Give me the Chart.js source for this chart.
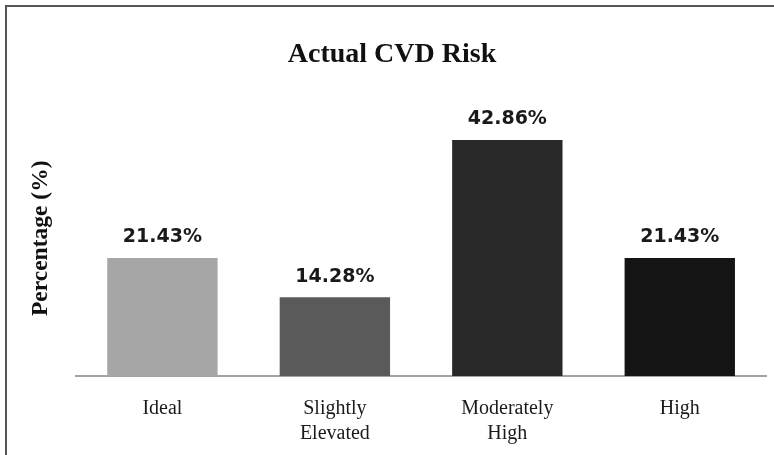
<!DOCTYPE html>
<html>
<head>
<meta charset="utf-8">
<script src="https://cdn.jsdelivr.net/npm/chart.js@4.4.1/dist/chart.umd.min.js"></script>
<style>
  html, body { margin: 0; padding: 0; background: #fff; }
  body { width: 774px; height: 455px; position: relative; overflow: hidden; }
  #frame {
    position: absolute; left: 5px; top: 5px; width: 900px; height: 600px;
    border-top: 2px solid #555; border-left: 2px solid #555;
  }
  #wrap { position: absolute; left: 0; top: 0; width: 774px; height: 455px; }
</style>
</head>
<body>
<div id="frame"></div>
<div id="wrap"><canvas id="chart"></canvas></div>
<script>
// Risk categories (multi-line labels) and their share of participants
const categories = [["Ideal"], ["Slightly", "Elevated"], ["Moderately", "High"], ["High"]];
const percentages = [21.43, 14.28, 42.86, 21.43];
const barColors = ["#a6a6a6", "#5a5a5a", "#282828", "#141414"];

// Writes each bar's value above it
const valueLabels = {
  id: "valueLabels",
  afterDatasetsDraw(chart) {
    const ctx = chart.ctx;
    const meta = chart.getDatasetMeta(0);
    ctx.save();
    ctx.font = "bold 19px 'DejaVu Sans'";
    ctx.fillStyle = "#1a1a1a";
    ctx.textAlign = "center";
    ctx.textBaseline = "bottom";
    meta.data.forEach((bar, i) => {
      ctx.fillText(percentages[i].toFixed(2) + "%", bar.x, bar.y - 11);
    });
    ctx.restore();
  }
};

new Chart(document.getElementById("chart"), {
  type: "bar",
  data: {
    labels: categories,
    datasets: [{
      data: percentages,
      backgroundColor: barColors,
      borderWidth: 0,
      categoryPercentage: 1,
      barPercentage: 0.64
    }]
  },
  plugins: [valueLabels],
  options: {
    responsive: true,
    maintainAspectRatio: false,
    animation: false,
    events: [],
    layout: { padding: { left: 18, right: 8, top: 0, bottom: 0 } },
    plugins: {
      legend: { display: false },
      tooltip: { enabled: false },
      title: {
        display: true,
        text: "Actual CVD Risk",
        color: "#111",
        font: { family: "'Liberation Serif'", size: 28, weight: "bold" },
        padding: { top: 38, bottom: 29 }
      }
    },
    scales: {
      x: {
        grid: { display: false, drawTicks: false },
        border: { display: true, color: "#a3a3a3", width: 2 },
        ticks: {
          color: "#1a1a1a",
          padding: 20,
          maxRotation: 0,
          font: { family: "'Liberation Serif'", size: 20, lineHeight: 1.25 }
        },
        afterFit(scale) { scale.height = 79; }
      },
      y: {
        min: 0,
        max: 50,
        grid: { display: false, drawTicks: false },
        border: { display: false },
        ticks: { display: false },
        title: {
          display: true,
          text: "Percentage (%)",
          color: "#111",
          font: { family: "'Liberation Serif'", size: 23.5, weight: "bold" },
          padding: { top: 9, bottom: 21 }
        }
      }
    }
  }
});
</script>
</body>
</html>
